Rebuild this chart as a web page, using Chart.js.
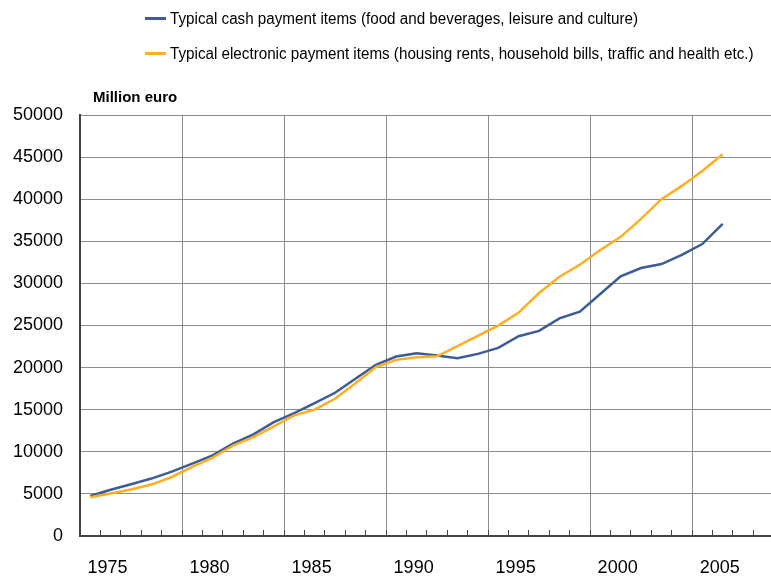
<!DOCTYPE html>
<html>
<head>
<meta charset="utf-8">
<script src="https://cdn.jsdelivr.net/npm/chart.js@4.4.1/dist/chart.umd.min.js"></script>
<style>
  body { margin: 0; background: #fff; overflow: hidden; }
  #wrap { position: relative; width: 771px; height: 581px; }
  #graph { position: absolute; left: 0; top: 0; }
  .leg { position: absolute; left: 145px; font-family: "Liberation Sans", Arial, sans-serif; font-size: 16px; color: #000; white-space: nowrap; line-height: 20px; }
  .leg span.mk { display: inline-block; width: 21px; height: 3px; vertical-align: middle; margin-right: 4px; position: relative; top: -1px; }
  .leg span.tx { display: inline-block; transform: scaleX(0.95); transform-origin: left center; }
  #unit { position: absolute; left: 93px; top: 88px; font-family: "Liberation Sans", Arial, sans-serif; font-weight: bold; font-size: 15px; }
</style>
</head>
<body>
<div id="wrap">
  <canvas id="graph" width="771" height="581"></canvas>
  <div class="leg" style="top:9px"><span class="mk" style="background:#3b5c96"></span><span class="tx">Typical cash payment items (food and beverages, leisure and culture)</span></div>
  <div class="leg" style="top:44px"><span class="mk" style="background:#ffae1f"></span><span class="tx">Typical electronic payment items (housing rents, household bills, traffic and health etc.)</span></div>
  <div id="unit">Million euro</div>
</div>
<script>
const years = [1974, 1975, 1976, 1977, 1978, 1979, 1980, 1981, 1982, 1983, 1984, 1985, 1986, 1987, 1988, 1989,
               1990, 1991, 1992, 1993, 1994, 1995, 1996, 1997, 1998, 1999, 2000, 2001, 2002, 2003, 2004, 2005];

const cashItems = [4750, 5500, 6150, 6820, 7650, 8600, 9580, 10970, 12070, 13530, 14600, 15780, 17010, 18670, 20330, 21310,
                   21690, 21430, 21120, 21630, 22340, 23720, 24360, 25850, 26650, 28740, 30830, 31820, 32300, 33400, 34670, 37070];

const electronicItems = [4610, 5050, 5520, 6110, 7010, 8200, 9310, 10730, 11750, 13020, 14330, 15000, 16300, 18150, 20050, 20920,
                         21220, 21340, 22540, 23770, 24990, 26530, 28860, 30800, 32220, 33960, 35530, 37670, 40000, 41580, 43360, 45330];

const yearLabels = [1975, 1980, 1985, 1990, 1995, 2000, 2005];
const gridYears = [1978.5, 1983.5, 1988.5, 1993.5, 1998.5, 2003.5];

const seriesNames = [
    'Typical cash payment items (food and beverages, leisure and culture)',
    'Typical electronic payment items (housing rents, household bills, traffic and health etc.)'
];

const xMin = 1973.5, xMax = 2007.37;

// every year boundary gets a small inward tick
const minorTicks = [];
for (let i = 0; i <= 33; i++) minorTicks.push(1974.5 + i);

const ctx = document.getElementById('graph').getContext('2d');
const chart = new Chart(ctx, {
    type: 'line',
    data: {
        datasets: [{
            label: seriesNames[0],
            data: years.map((y, i) => ({ x: y, y: cashItems[i] })),
            borderColor: '#3b5c96',
            borderWidth: 2.5,
            pointRadius: 0,
            tension: 0,
            order: 1
        }, {
            label: seriesNames[1],
            data: years.map((y, i) => ({ x: y, y: electronicItems[i] })),
            borderColor: '#ffae1f',
            borderWidth: 2.5,
            pointRadius: 0,
            tension: 0,
            order: 0
        }]
    },
    options: {
        responsive: false,
        animation: false,
        layout: { padding: { top: 115, left: 0, right: 0, bottom: 0 } },
        plugins: {
            legend: { display: false },
            tooltip: { enabled: false }
        },
        scales: {
            xg: {
                type: 'linear',
                position: 'bottom',
                min: xMin,
                max: xMax,
                weight: 0,
                afterBuildTicks: s => { s.ticks = minorTicks.map(v => ({ value: v })); },
                afterFit: s => { s.height = 0; },
                ticks: { display: false },
                grid: {
                    color: c => gridYears.includes(c.tick && c.tick.value) ? '#8c8c8c' : 'rgba(0,0,0,0)',
                    tickColor: '#444',
                    tickLength: -6,
                    lineWidth: 1
                },
                border: { display: false }
            },
            x: {
                type: 'linear',
                position: 'bottom',
                min: xMin,
                max: xMax,
                weight: 1,
                afterBuildTicks: s => { s.ticks = yearLabels.map(v => ({ value: v })); },
                afterFit: s => { s.height = 45; },
                ticks: {
                    color: '#000',
                    font: { family: 'Liberation Sans', size: 18 },
                    padding: 21,
                    labelOffset: -3,
                    maxRotation: 0,
                    autoSkip: false,
                    callback: v => String(v)
                },
                grid: { display: false, drawTicks: false },
                border: { display: true, color: '#444', width: 2 }
            },
            y: {
                min: 0,
                max: 50000,
                afterFit: s => { s.width = 80; },
                ticks: {
                    stepSize: 5000,
                    color: '#000',
                    font: { family: 'Liberation Sans', size: 18 },
                    padding: 17,
                    callback: v => String(v)
                },
                grid: { color: '#8c8c8c', lineWidth: 1, drawTicks: false },
                border: { display: true, color: '#444', width: 2 }
            }
        }
    }
});
</script>
</body>
</html>
